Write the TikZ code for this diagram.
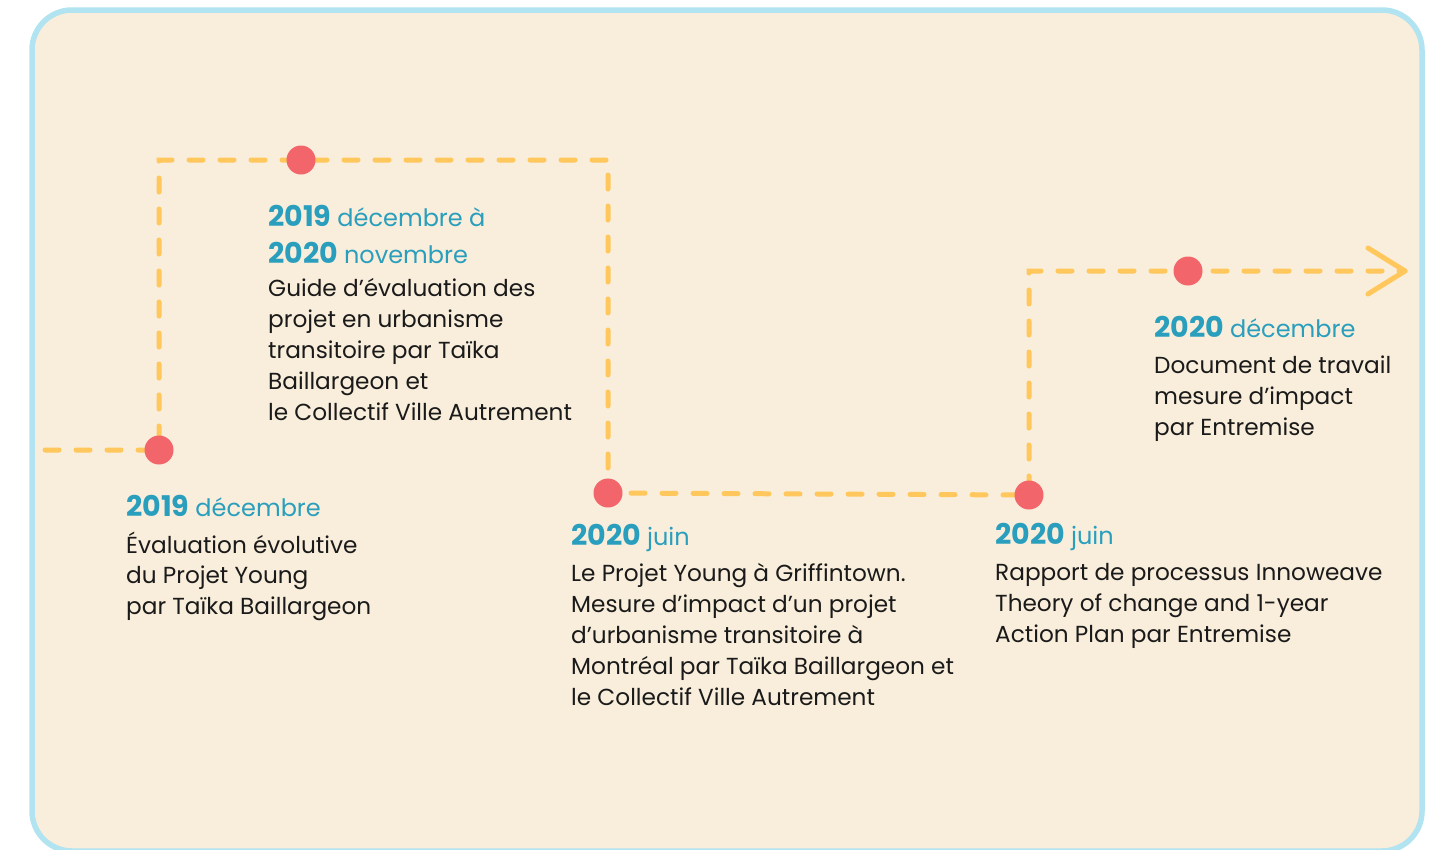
\documentclass[tikz,border=0pt]{standalone}
\usepackage{fontspec}
\setmainfont{Poppins}
\pgfdeclarelayer{bg}
\pgfdeclarelayer{ln}
\pgfsetlayers{bg,ln,main}
\definecolor{paper}{HTML}{F9EEDB}
\definecolor{frame}{HTML}{B1E3F1}
\definecolor{track}{HTML}{FFC75C}
\definecolor{dotred}{HTML}{F2656B}
\definecolor{hdteal}{HTML}{2A9EBD}
\definecolor{ink}{HTML}{1A1A1A}
\newcommand\tlhead[2]{{\fontsize{28.5}{31}\selectfont\bfseries\color{hdteal}#1} {\fontsize{24}{31}\selectfont\color{hdteal}#2}}
\tikzset{
  dot/.style={circle, fill=dotred, minimum size=29pt, inner sep=0pt},
  trackline/.style={draw=track, line width=5pt, line cap=round, dash pattern=on 14pt off 17pt},
  chevron/.style={draw=track, line width=5pt, line cap=round, line join=round},
  txt/.style={anchor=north west, inner sep=0pt, align=left, font=\fontsize{23.2}{31}\selectfont, text=ink},
}
\begin{document}
\begin{tikzpicture}[x=1pt,y=-1pt]
\useasboundingbox (0,0) rectangle (1440,849);
\clip (0,0) rectangle (1440,849);
\begin{pgfonlayer}{bg}
  \draw[draw=frame, fill=paper, line width=5.5pt, rounded corners=40pt] (32,10) rectangle (1422,851);
\end{pgfonlayer}
% dots
\node[dot] (d1) at (159,450) {};
\node[dot] (d2) at (301,160) {};
\node[dot] (d3) at (608,493) {};
\node[dot] (d4) at (1029,495) {};
\node[dot] (d5) at (1188,271) {};
\coordinate (start) at (45,450);
\coordinate (k1) at (159,160);
\coordinate (k2) at (608,160);
\coordinate (k3) at (1029,271);
\coordinate (tip) at (1405,271);
\coordinate (ctop) at (1368,248);
\coordinate (cbot) at (1368,294);
\begin{pgfonlayer}{ln}
  \draw[trackline] (start) -- (d1.center) -- (k1) -- (k2) -- (d3.center) -- (d4.center) -- (k3) -- (tip);
  \draw[chevron] (ctop) -- (tip) -- (cbot);
\end{pgfonlayer}
% texts
\node[txt] (tA) at (126,495.5) {\tlhead{2019}{décembre}\\[5pt]
Évaluation évolutive\\
du Projet Young\\
par Taïka Baillargeon};
\node[txt] (tB) at (268,205.5) {\tlhead{2019}{décembre à}\\[6pt]
\tlhead{2020}{novembre}\\[2pt]
Guide d’évaluation des\\
projet en urbanisme\\
transitoire par Taïka\\
Baillargeon et\\
le Collectif Ville Autrement};
\node[txt] (tC) at (571,524.5) {\tlhead{2020}{juin}\\[5pt]
Le Projet Young à Griffintown.\\
Mesure d’impact d’un projet\\
d’urbanisme transitoire à\\
Montréal par Taïka Baillargeon et\\
le Collectif Ville Autrement};
\node[txt] (tD) at (995,523.5) {\tlhead{2020}{juin}\\[5pt]
Rapport de processus Innoweave\\
Theory of change and 1-year\\
Action Plan par Entremise};
\node[txt] (tE) at (1154,316.5) {\tlhead{2020}{décembre}\\[5pt]
Document de travail\\
mesure d’impact\\
par Entremise};
\end{tikzpicture}
\end{document}
